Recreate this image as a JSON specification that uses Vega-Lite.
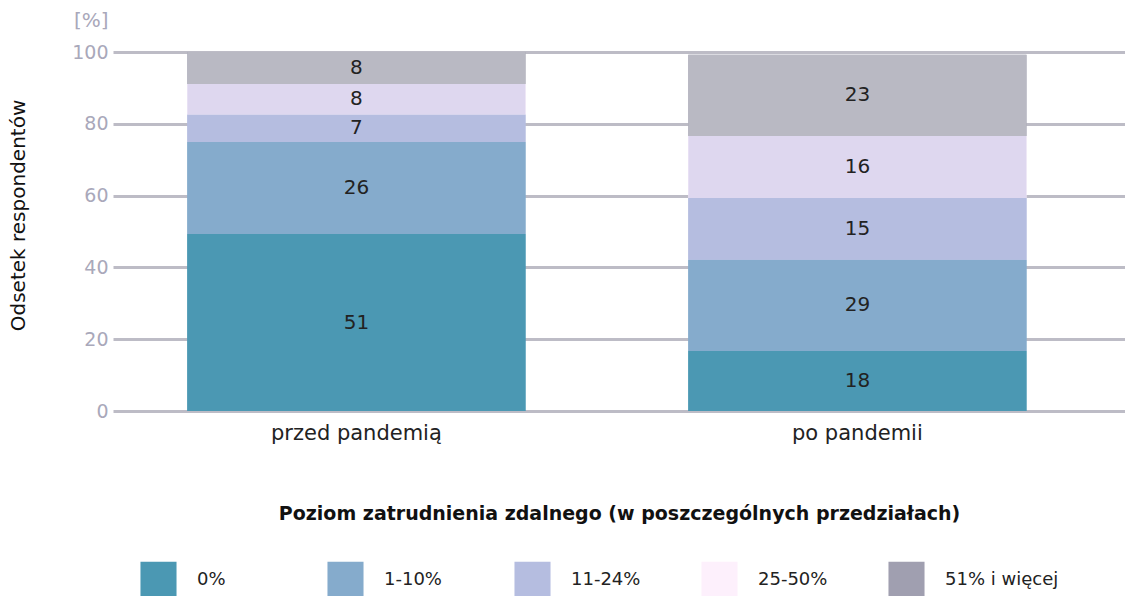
{
  "$schema": "https://vega.github.io/schema/vega-lite/v6.json",
  "autosize": {"type": "none"},
  "width": 1012,
  "height": 359,
  "padding": {"left": 113, "top": 52, "right": 0, "bottom": 185},
  "background": "white",
  "title": {"text": "[%]", "anchor": "start", "frame": "group", "dx": -39, "offset": 12, "fontSize": 20, "font": "DejaVu Sans", "fontWeight": "normal", "color": "#a9a8ba"},
  "config": {"view": {"stroke": null}, "font": "DejaVu Sans"},
  "data": {"values": [
    {"okres": "przed pandemią", "poziom": "0%", "udzial": 49.3, "etykieta": "51"},
    {"okres": "przed pandemią", "poziom": "1-10%", "udzial": 25.6, "etykieta": "26"},
    {"okres": "przed pandemią", "poziom": "11-24%", "udzial": 7.7, "etykieta": "7"},
    {"okres": "przed pandemią", "poziom": "25-50%", "udzial": 8.5, "etykieta": "8"},
    {"okres": "przed pandemią", "poziom": "51% i więcej", "udzial": 8.9, "etykieta": "8"},
    {"okres": "po pandemii", "poziom": "0%", "udzial": 16.7, "etykieta": "18"},
    {"okres": "po pandemii", "poziom": "1-10%", "udzial": 25.4, "etykieta": "29"},
    {"okres": "po pandemii", "poziom": "11-24%", "udzial": 17.2, "etykieta": "15"},
    {"okres": "po pandemii", "poziom": "25-50%", "udzial": 17.3, "etykieta": "16"},
    {"okres": "po pandemii", "poziom": "51% i więcej", "udzial": 22.6, "etykieta": "23"}
  ]},
  "encoding": {
    "x": {
      "field": "okres", "type": "nominal", "sort": ["przed pandemią", "po pandemii"],
      "scale": {"paddingInner": 0.325, "paddingOuter": 0.1725, "align": 0.43},
      "axis": {
        "title": "Poziom zatrudnienia zdalnego (w poszczególnych przedziałach)",
        "labelAngle": 0, "domain": false, "ticks": false, "labelPadding": 11,
        "labelFontSize": 21, "labelColor": "#222222", "labelFont": "DejaVu Sans",
        "titleFontSize": 19, "titleFontWeight": 600, "titleColor": "#111111", "titlePadding": 61, "titleFont": "DejaVu Sans"
      }
    },
    "y": {
      "field": "udzial", "type": "quantitative", "stack": "zero",
      "scale": {"domain": [0, 100]},
      "axis": {
        "title": "Odsetek respondentów", "values": [0, 20, 40, 60, 80, 100],
        "domain": false, "ticks": false, "grid": true, "gridColor": "#bdbcc6", "gridWidth": 3,
        "labelPadding": 5, "labelFontSize": 19, "labelColor": "#a9a8ba", "labelFontWeight": "normal",
        "titleFontSize": 20, "titleFontWeight": "normal", "titleColor": "#111111",
        "titleX": -95, "titleY": 163, "titleAngle": -90, "titleAlign": "center", "titleBaseline": "middle"
      }
    },
    "order": {"field": "poziom", "sort": "ascending"}
  },
  "layer": [
    {
      "mark": {"type": "bar"},
      "encoding": {
        "fill": {
          "field": "poziom", "type": "nominal",
          "scale": {"domain": ["0%", "1-10%", "11-24%", "25-50%", "51% i więcej"], "range": ["#4b98b3", "#85abcc", "#b5bde0", "#fdf0fc", "#a09fb0"]},
          "legend": {
            "orient": "none", "legendX": 27, "legendY": 509, "direction": "horizontal", "title": null,
            "columns": 5, "gridAlign": "all",
            "symbolType": "square", "symbolSize": 1300, "symbolStrokeWidth": 0,
            "labelFontSize": 18, "labelColor": "#222222", "labelOffset": 20, "columnPadding": 16, "labelFont": "DejaVu Sans"
          }
        }
      }
    },
    {
      "mark": {"type": "bar"},
      "encoding": {
        "color": {
          "field": "poziom", "type": "nominal",
          "scale": {"range": ["#4b98b3", "#85abcc", "#b5bde0", "#ded7ef", "#b9b9c3"]},
          "legend": null
        }
      }
    },
    {
      "mark": {"type": "text", "fontSize": 20, "color": "#222222", "font": "DejaVu Sans"},
      "encoding": {
        "y": {"field": "udzial", "type": "quantitative", "stack": "zero", "bandPosition": 0.5},
        "text": {"field": "etykieta"},
        "detail": {"field": "poziom"}
      }
    }
  ]
}
